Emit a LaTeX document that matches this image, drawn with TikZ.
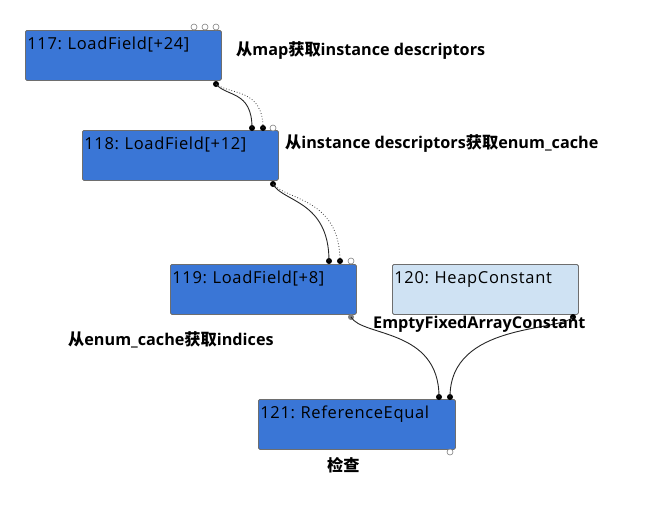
\documentclass[tikz,border=0pt]{standalone}
\usepackage{fontspec}
\setmainfont{Open Sans}
\newfontfamily\cjk{Noto Sans CJK SC}
\newcommand\zh[1]{{\cjk #1}}
\frenchspacing
\definecolor{nodeblue}{RGB}{58,118,214}
\definecolor{nodelight}{RGB}{207,226,243}
\definecolor{boxline}{RGB}{110,110,110}
\tikzset{
  opbox/.style={draw=boxline, line width=0.8pt, fill=nodeblue, rounded corners=1.5pt,
    anchor=north west, align=left, inner xsep=2pt, inner ysep=3pt,
    text height=16.5pt, text depth=27.5pt,
    font=\fontsize{16.5}{19}\selectfont\addfontfeature{LetterSpace=4}},
  constbox/.style={opbox, fill=nodelight},
  note/.style={anchor=west, inner sep=0pt, font=\fontsize{16.2}{19}\selectfont\bfseries},
  pin/.style={circle, fill=black, inner sep=0pt, minimum size=6pt},
  graypin/.style={circle, fill=gray, inner sep=0pt, minimum size=6pt},
  openpin/.style={circle, draw=gray, fill=white, line width=0.6pt, inner sep=0pt, minimum size=6pt},
  edge/.style={draw=black!85, line width=0.9pt},
  effect/.style={draw=black!75, line width=0.8pt, dotted},
}
\begin{document}
\begin{tikzpicture}[x=1pt,y=-1pt]
\useasboundingbox (0,0) rectangle (652,517);
% nodes
\node[opbox, text width=192pt] (n117) at (25,30) {117: LoadField[+24]};
\node[opbox, text width=192pt] (n118) at (82,130) {118: LoadField[+12]};
\node[opbox, text width=182pt] (n119) at (170,264) {119: LoadField[+8]};
\node[constbox, text width=182pt] (n120) at (392,264) {120: HeapConstant};
\node[opbox, text width=193pt] (n121) at (258,399) {121: ReferenceEqual};
% ports
\node[openpin] (a117a) at (194,27) {};
\node[openpin] (a117b) at (205,27) {};
\node[openpin] (a117c) at (216,27) {};
\node[pin] (o117) at (216,84) {};
\node[pin] (a118a) at (252,128) {};
\node[pin] (a118b) at (263,128) {};
\node[openpin] (a118c) at (273,128) {};
\node[pin] (o118) at (273,184) {};
\node[pin] (a119a) at (329,261) {};
\node[pin] (a119b) at (340,261) {};
\node[openpin] (a119c) at (351,261) {};
\node[graypin] (o119) at (351,317) {};
\node[pin] (o120) at (573,317) {};
\node[pin] (a121a) at (439,397) {};
\node[pin] (a121b) at (450,397) {};
\node[openpin] (o121) at (450,452) {};
% edges
\draw[edge] (o117.center) .. controls (226,97) and (252,90) .. (a118a.center);
\draw[effect] (o117.center) .. controls (230,95) and (263,88) .. (a118b.center);
\draw[edge] (o118.center) .. controls (282,202) and (329,200) .. (a119a.center);
\draw[effect] (o118.center) .. controls (286,200) and (340,198) .. (a119b.center);
\draw[edge] (o119.center) .. controls (362,337) and (439,328) .. (a121a.center);
\draw[edge] (o120.center) .. controls (560,332) and (450,322) .. (a121b.center);
% notes
\node[note] (l117) at (236,51) {\zh{从}map\zh{获取}instance descriptors};
\node[note] (l118) at (285,144) {\zh{从}instance descriptors\zh{获取}enum\_cache};
\node[note] (l119) at (68,340) {\zh{从}enum\_cache\zh{获取}indices};
\node[note] (l120) at (373,324) {EmptyFixedArrayConstant};
\node[note] (l121) at (327,465) {\zh{检查}};
\end{tikzpicture}
\end{document}
